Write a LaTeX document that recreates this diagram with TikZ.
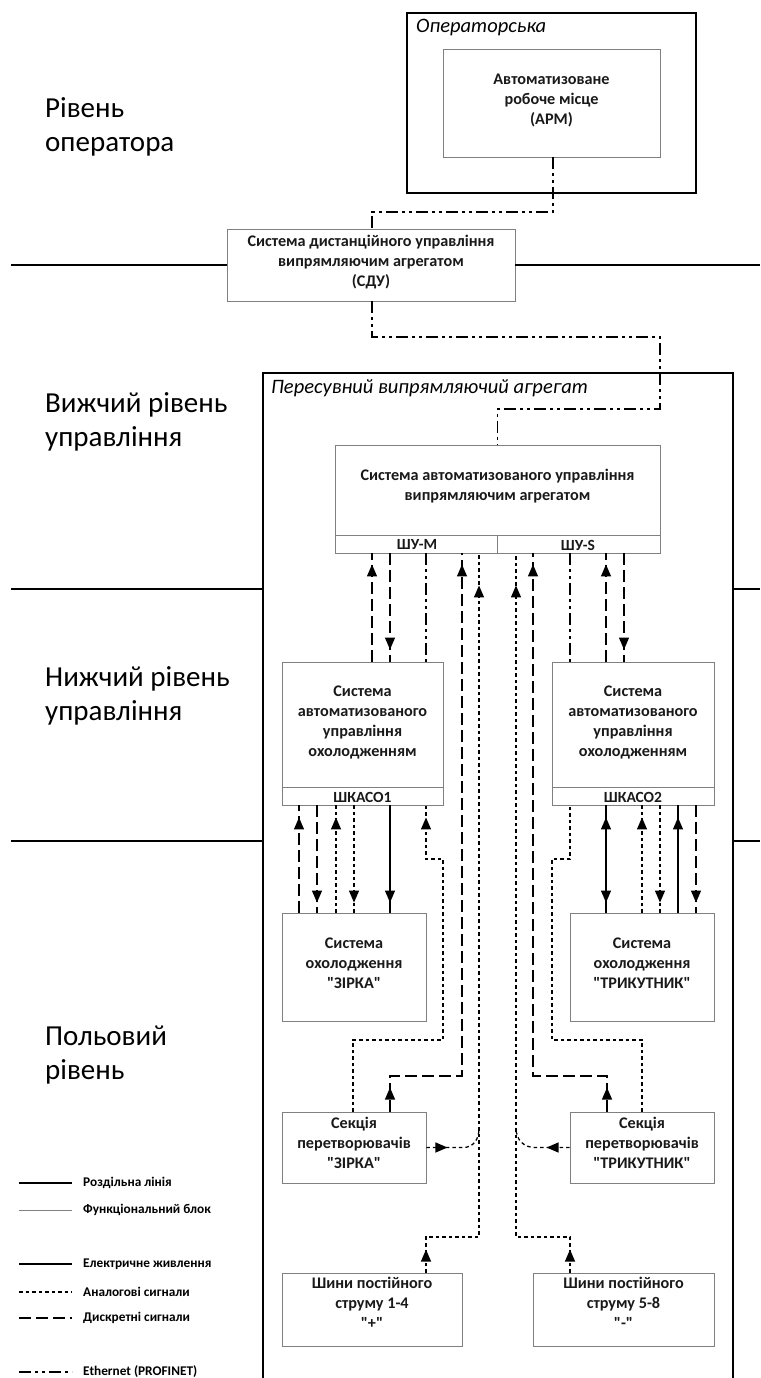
\documentclass[tikz,border=0pt]{standalone}
\usepackage{fontspec}
\setmainfont{Carlito}[Ligatures=TeXOff]
\usetikzlibrary{arrows.meta,decorations.markings}
\begin{document}
\begin{tikzpicture}[x=1pt,y=-1pt,
  Tri/.tip={Triangle[length=12pt,width=10pt]},
  fblock/.style={draw=black!50, line width=0.9pt, inner sep=0pt, rectangle},
  btxt/.style={font=\fontsize{16.2}{20}\selectfont\bfseries, align=center, inner sep=0pt, text=black!90},
  stxt/.style={font=\fontsize{15.5}{17}\selectfont\bfseries, inner sep=0pt, text=black!90},
  sep/.style={line width=2.6pt},
  conn/.style={line width=1.3pt},
  power/.style={conn},
  analog/.style={conn, dash pattern=on 3.5pt off 3pt},
  disc/.style={conn, dash pattern=on 12pt off 5pt},
  eth/.style={conn, dash pattern=on 12pt off 4pt on 3pt off 4pt on 3pt off 4pt},
  tip/.style={postaction={decorate,decoration={markings,mark=at position #1 with {\arrow{Tri}}}}},
  rtip/.style={postaction={decorate,decoration={markings,mark=at position #1 with {\arrowreversed{Tri}}}}},
  lvl/.style={font=\fontsize{29}{34}\selectfont, align=left, anchor=west, inner sep=0pt},
  ital/.style={font=\fontsize{20.5}{23}\selectfont\itshape, anchor=west, inner sep=0pt},
  leg/.style={font=\fontsize{13.3}{15}\selectfont\bfseries, anchor=west, inner sep=0pt},
]
\path[use as bounding box] (0,0) rectangle (760,1378);

% level labels
\node[lvl] (l1) at (45,127) {Рівень\\оператора};
\node[lvl] (l2) at (45,422) {Вижчий рівень\\управління};
\node[lvl] (l3) at (45,696) {Нижчий рівень\\управління};
\node[lvl] (l4) at (45,1055) {Польовий\\рівень};

% operator room
\node[rectangle, draw=black, line width=2.6pt, minimum width=289pt, minimum height=180pt, inner sep=0pt] (op) at (551.5,103) {};
\node[ital] (opl) at (416,28) {Операторська};
\node[fblock, minimum width=217pt, minimum height=108pt] (apm) at (551.5,103) {};
\node[btxt] (apmt) at (551.5,100) {Автоматизоване\\робоче місце\\(АРМ)};

% SDU
\node[fblock, minimum width=288pt, minimum height=72pt] (sdu) at (371,265) {};
\node[btxt] (sdut) at (371,262) {Система дистанційного управління\\випрямляючим агрегатом\\(СДУ)};

% level separation lines
\draw[sep] (11,265) -- (sdu.west);
\draw[sep] (sdu.east) -- (760,265);
\draw[sep] (11,589) -- (263,589);
\draw[sep] (733,589) -- (760,589);
\draw[sep] (11,841) -- (263,841);
\draw[sep] (733,841) -- (760,841);

% mobile rectifier container
\draw[sep] (263,1385) -- (263,373) -- (733,373) -- (733,1385);
\node[ital] (pvl) at (271,388) {Пересувний випрямляючий агрегат};

% SAU
\node[fblock, minimum width=325pt, minimum height=108pt] (sau) at (497.5,499) {};
\draw[fblock] (335,535) -- (660,535);
\draw[fblock] (497.5,535) -- (sau.south);
\node[btxt] (saut) at (497.5,486) {Система автоматизованого управління\\випрямляючим агрегатом};
\node[stxt] (shum) at (417,545) {ШУ-М};
\node[stxt] (shus) at (578,545) {ШУ-S};

% ShKASO boxes
\node[fblock, minimum width=161pt, minimum height=143pt] (k1) at (362.5,733.5) {};
\draw[fblock] (282,787) -- (443,787);
\node[btxt] (k1t) at (362.5,722) {Система\\автоматизованого\\управління\\охолодженням};
\node[stxt] (k1l) at (362.5,797) {ШКАСО1};
\node[fblock, minimum width=162pt, minimum height=143pt] (k2) at (633,733.5) {};
\draw[fblock] (552,787) -- (714,787);
\node[btxt] (k2t) at (633,722) {Система\\автоматизованого\\управління\\охолодженням};
\node[stxt] (k2l) at (633,797) {ШКАСО2};

% cooling systems
\node[fblock, minimum width=144pt, minimum height=108pt] (c1) at (354,967) {};
\node[btxt] (c1t) at (354,963) {Система\\охолодження\\"ЗІРКА"};
\node[fblock, minimum width=144pt, minimum height=108pt] (c2) at (642,967) {};
\node[btxt] (c2t) at (642,963) {Система\\охолодження\\"ТРИКУТНИК"};

% converter sections
\node[fblock, minimum width=144pt, minimum height=71pt] (s1) at (354,1147.5) {};
\node[btxt] (s1t) at (354,1143) {Секція\\перетворювачів\\"ЗІРКА"};
\node[fblock, minimum width=144pt, minimum height=71pt] (s2) at (642,1147.5) {};
\node[btxt] (s2t) at (642,1143) {Секція\\перетворювачів\\"ТРИКУТНИК"};

% DC buses
\node[fblock, minimum width=180pt, minimum height=73pt] (b1) at (372,1309.5) {};
\node[btxt] (b1t) at (372,1303) {Шини постійного\\струму 1-4\\"+"};
\node[fblock, minimum width=181pt, minimum height=73pt] (b2) at (623.5,1309.5) {};
\node[btxt] (b2t) at (623.5,1303) {Шини постійного\\струму 5-8\\"-"};

% Ethernet links
\draw[eth] (553,0 |- apm.south) -- (553,212) -- (372,212) -- (372,0 |- sdu.north);
\draw[eth] (372,0 |- sdu.south) -- (372,337) -- (660,337) -- (660,409) -- (497.5,409) -- (sau.north);

% SAU <-> ShKASO1
\draw[disc, tip=-11pt] (372,0 |- k1.north) -- (372,0 |- sau.south);
\draw[disc, tip=-12pt] (390,0 |- sau.south) -- (390,0 |- k1.north);
\draw[eth] (426,0 |- sau.south) -- (426,0 |- k1.north);
% SAU <-> ShKASO2
\draw[eth] (570,0 |- sau.south) -- (570,0 |- k2.north);
\draw[disc, tip=-11pt] (606,0 |- k2.north) -- (606,0 |- sau.south);
\draw[disc, tip=-12pt] (624,0 |- sau.south) -- (624,0 |- k2.north);

% long links from field level to SAU
\draw[disc, tip=24pt, tip=-11pt] (390,0 |- s1.north) -- (390,1076) -- (462,1076) -- (462,0 |- sau.south);
\draw[analog, tip=23pt, tip=-32pt] (426,0 |- b1.north) -- (426,1237) -- (479,1237) -- (479,0 |- sau.south);
\draw[analog, tip=23pt, tip=-32pt] (570,0 |- b2.north) -- (570,1237) -- (516,1237) -- (516,0 |- sau.south);
\draw[disc, tip=24pt, tip=-11pt] (607,0 |- s2.north) -- (607,1076) -- (533,1076) -- (533,0 |- sau.south);

% sections -> analog lines
\coordinate (j1) at (479,1128);
\coordinate (j2) at (516,1128);
\draw[analog, tip=21pt] (s1.east) -- (463,1147.5) .. controls (473,1147.5) and (479,1140) .. (j1);
\draw[analog, tip=23pt] (s2.west) -- (535,1147.5) .. controls (524,1147.5) and (516,1140) .. (j2);

% ShKASO1 <-> cooling ZIRKA
\draw[disc, tip=-12pt] (299,0 |- c1.north) -- (299,0 |- k1.south);
\draw[disc, tip=-10pt] (317,0 |- k1.south) -- (317,0 |- c1.north);
\draw[analog, tip=-12pt] (336,0 |- c1.north) -- (336,0 |- k1.south);
\draw[analog, tip=-10pt] (354,0 |- k1.south) -- (354,0 |- c1.north);
\draw[power, tip=-10pt] (390,0 |- k1.south) -- (390,0 |- c1.north);
\draw[analog, tip=-12pt] (353,0 |- s1.north) -- (353,1040) -- (443,1040) -- (443,859) -- (426,859) -- (426,0 |- k1.south);

% ShKASO2 <-> cooling TRYKUTNYK
\draw[analog] (642,0 |- s2.north) -- (642,1040) -- (552,1040) -- (552,859) -- (570,859) -- (570,0 |- k2.south);
\draw[power, tip=-10pt, rtip=12pt] (606,0 |- k2.south) -- (606,0 |- c2.north);
\draw[analog, tip=-12pt] (642,0 |- c2.north) -- (642,0 |- k2.south);
\draw[analog, tip=-10pt] (660,0 |- k2.south) -- (660,0 |- c2.north);
\draw[power, tip=-12pt] (678,0 |- c2.north) -- (678,0 |- k2.south);
\draw[disc, tip=-10pt] (696,0 |- k2.south) -- (696,0 |- c2.north);

% legend
\draw[sep] (19,1183) -- (72,1183);
\node[leg] (g1) at (83,1183) {Роздільна лінія};
\draw[draw=black!50, line width=0.9pt] (19,1210) -- (72,1210);
\node[leg] (g2) at (83,1210) {Функціональний блок};
\draw[power] (19,1264) -- (72,1264);
\node[leg] (g3) at (83,1264) {Електричне живлення};
\draw[analog] (19,1292) -- (72,1292);
\node[leg] (g4) at (83,1292) {Аналогові сигнали};
\draw[disc] (19,1318) -- (72,1318);
\node[leg] (g5) at (83,1318) {Дискретні сигнали};
\draw[eth] (19,1372) -- (72,1372);
\node[leg] (g6) at (83,1372) {Ethernet (PROFINET)};
\end{tikzpicture}
\end{document}
